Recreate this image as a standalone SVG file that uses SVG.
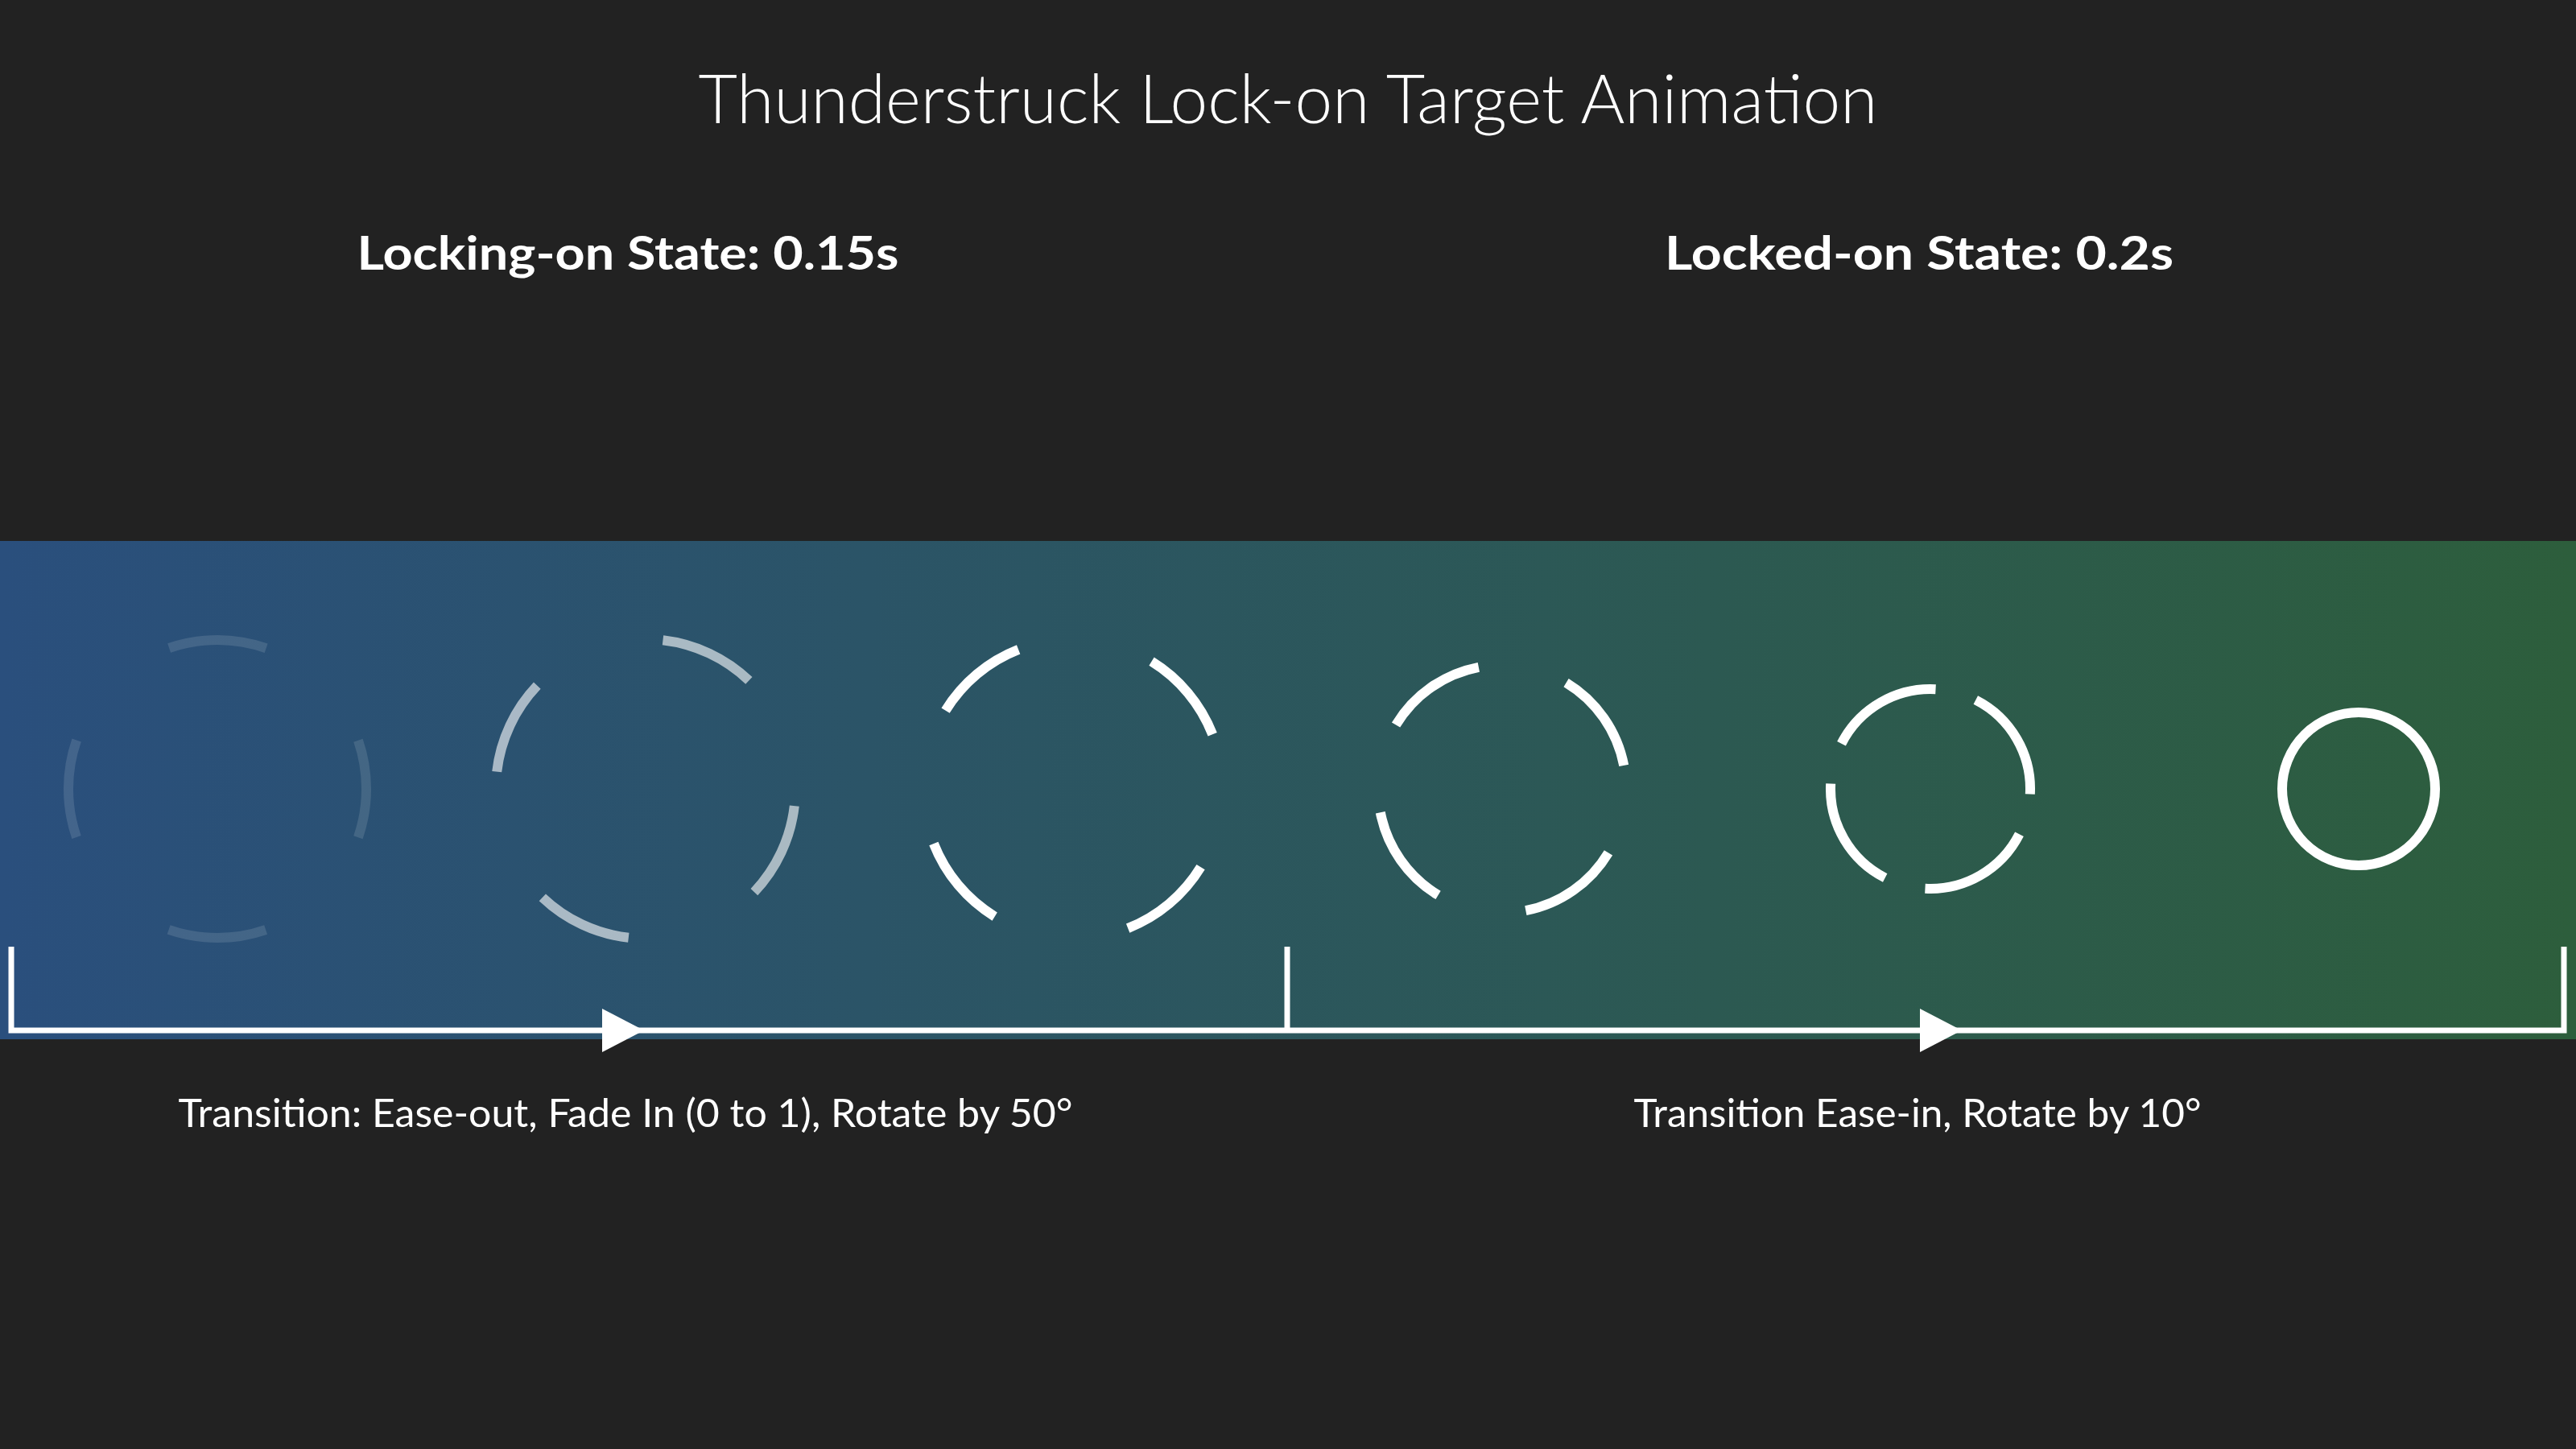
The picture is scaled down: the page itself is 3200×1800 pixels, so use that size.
<svg xmlns="http://www.w3.org/2000/svg" width="3200" height="1800" viewBox="0 0 3200 1800">
  <defs>
    <linearGradient id="band" x1="0" y1="0" x2="1" y2="0">
      <stop offset="0" stop-color="#2a4f7d"/>
      <stop offset="1" stop-color="#2d5e3c"/>
    </linearGradient>
    <style>
      .title { font-family: "Lato", "Open Sans", sans-serif; font-weight: 300; font-size: 84px; fill: #ffffff; }
      .sub { font-family: "Lato", "Open Sans", sans-serif; font-weight: 700; font-size: 58px; fill: #ffffff; }
      .label { font-family: "Lato", "Open Sans", sans-serif; font-weight: 400; font-size: 48px; fill: #ffffff; }
      .ring { fill: none; stroke: #ffffff; stroke-width: 12; stroke-linecap: butt; }
      .bracket { fill: none; stroke: #ffffff; stroke-width: 7; }
      .head { fill: #ffffff; }
    </style>
  </defs>

  <rect x="0" y="0" width="3200" height="1800" fill="#222222"/>
  <rect x="0" y="672" width="3200" height="619" fill="url(#band)"/>

  <g id="title">
    <text class="title" x="1600" y="153" text-anchor="middle" textLength="1465" lengthAdjust="spacingAndGlyphs">Thunderstruck Lock-on Target Animation</text>
  </g>
  <g id="state-locking">
    <text class="sub" x="780" y="335" text-anchor="middle" textLength="673" lengthAdjust="spacingAndGlyphs">Locking-on State: 0.15s</text>
  </g>
  <g id="state-locked">
    <text class="sub" x="2384" y="335" text-anchor="middle" textLength="632" lengthAdjust="spacingAndGlyphs">Locked-on State: 0.2s</text>
  </g>

  <g id="frame1">
    <circle class="ring" cx="270" cy="980" r="185" opacity="0.12" stroke-dasharray="122.7 167.9" transform="rotate(-19 270 980)"/>
  </g>
  <g id="frame2">
    <circle class="ring" cx="802" cy="980" r="186" opacity="0.6" stroke-dasharray="120.1 172.1" transform="rotate(6.5 802 980)"/>
  </g>
  <g id="frame3">
    <circle class="ring" cx="1333" cy="980" r="186" stroke-dasharray="120.1 172.1" transform="rotate(31.5 1333 980)"/>
  </g>
  <g id="frame4">
    <circle class="ring" cx="1866" cy="980" r="154" stroke-dasharray="129.0 112.9" transform="rotate(31 1866 980)"/>
  </g>
  <g id="frame5">
    <circle class="ring" cx="2398" cy="980" r="124" stroke-dasharray="142.8 51.9" transform="rotate(27 2398 980)"/>
  </g>
  <g id="frame6">
    <circle class="ring" cx="2930" cy="980" r="95"/>
  </g>

  <g id="connectors">
    <polyline class="bracket" points="14,1176 14,1280 3185,1280 3185,1176"/>
    <line class="bracket" x1="1599" y1="1176" x2="1599" y2="1280"/>
    <polygon class="head" points="748,1253 748,1307 800,1280"/>
    <polygon class="head" points="2385,1253 2385,1307 2437,1280"/>
  </g>

  <g id="label-locking">
    <text class="label" x="777" y="1400" text-anchor="middle" textLength="1111" lengthAdjust="spacingAndGlyphs">Transition: Ease-out, Fade In (0 to 1), Rotate by 50°</text>
  </g>
  <g id="label-locked">
    <text class="label" x="2382" y="1400" text-anchor="middle" textLength="705" lengthAdjust="spacingAndGlyphs">Transition Ease-in, Rotate by 10°</text>
  </g>
</svg>
